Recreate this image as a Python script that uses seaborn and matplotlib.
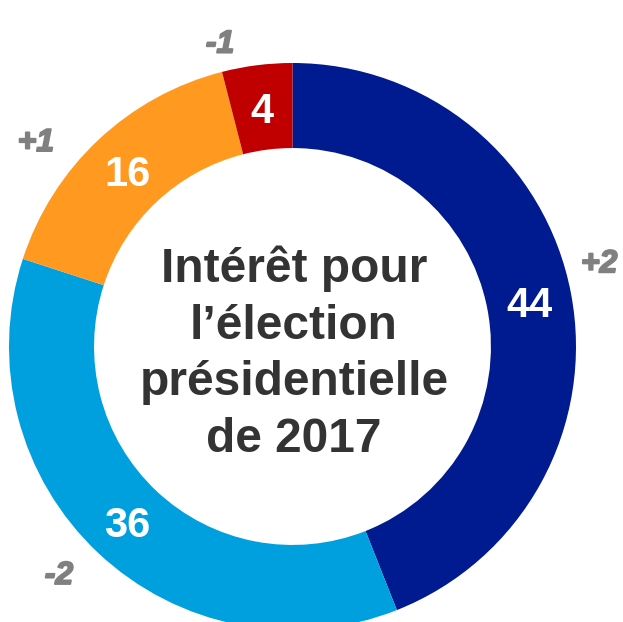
import numpy as np
import matplotlib
matplotlib.use("Agg")
import matplotlib.pyplot as plt
import matplotlib.patheffects as pe
import seaborn as sns

# Data
categories = ["Beaucoup", "Assez", "Peu", "Pas du tout"]
values = [44, 36, 16, 4]
changes = ["+2", "-2", "+1", "-1"]
center_title = "Intérêt pour\nl\u2019élection\nprésidentielle\nde 2017"

sns.set_theme(style="white")
plt.rcParams["font.family"] = ["Liberation Sans", "DejaVu Sans"]

colors = sns.color_palette(["#001A8F", "#00A0DF", "#FF991F", "#C00000"])

fig = plt.figure(figsize=(6.23, 6.22), dpi=100)
ax = fig.add_axes([0, 0, 1, 1])

ring_width = 0.30
wedges, _ = ax.pie(values, colors=colors, startangle=90, counterclock=False,
                   radius=1.0, wedgeprops=dict(width=ring_width, edgecolor="none"))

# label placement (style): radius and angular offset for change labels
change_radius = [1.12, 1.155, 1.155, 1.095]
change_angle_offset = [4.2, -2.3, 8.4, 6.3]

mid_r = 1.0 - ring_width / 2
for i, w in enumerate(wedges):
    ang = np.deg2rad((w.theta1 + w.theta2) / 2)
    ax.text(mid_r * np.cos(ang), mid_r * np.sin(ang) - 0.015, str(values[i]),
            ha="center", va="center", color="white", fontsize=30,
            fontweight="bold")
    a2 = np.deg2rad((w.theta1 + w.theta2) / 2 + change_angle_offset[i])
    ax.text(change_radius[i] * np.cos(a2), change_radius[i] * np.sin(a2),
            changes[i], ha="center", va="center", color="#808080",
            fontsize=23, fontweight="bold", fontstyle="italic",
            path_effects=[pe.withStroke(linewidth=1.3, foreground="#808080")])

ax.text(0.005, -0.025, center_title, ha="center", va="center",
        color="#333333", fontsize=34.5, fontweight="bold", linespacing=1.33)

ax.set_xlim(-1.0317, 1.1658)
ax.set_ylim(-0.9718, 1.2222)
ax.set_aspect("equal")
ax.axis("off")

fig.savefig("out.png", dpi=100, facecolor="white")
